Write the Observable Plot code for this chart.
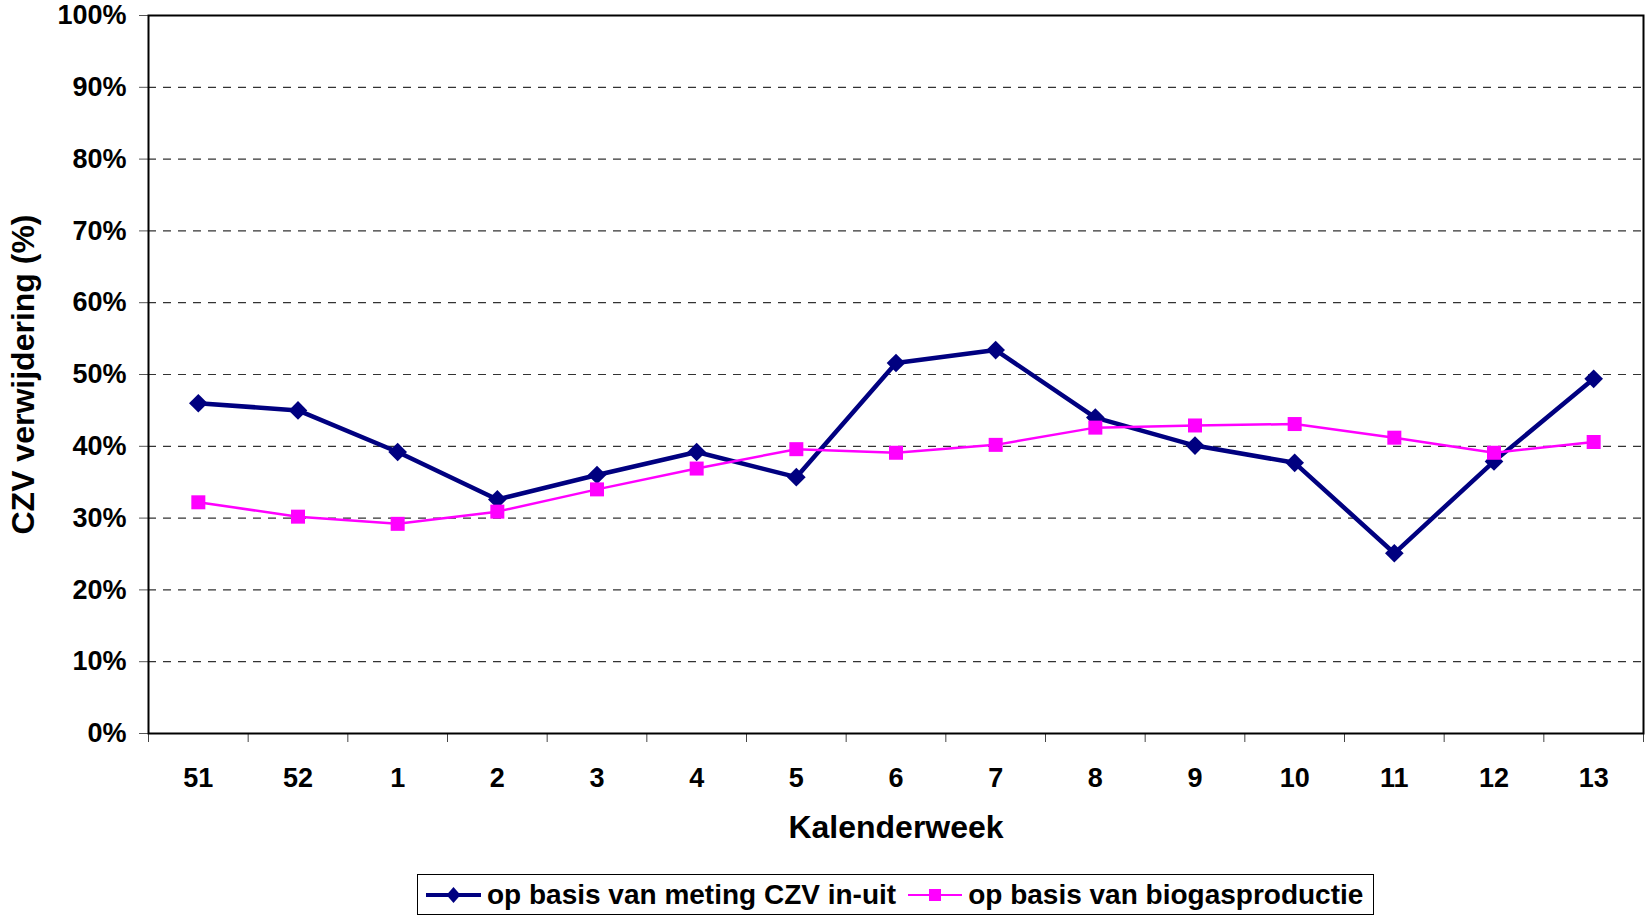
<!DOCTYPE html>
<html>
<head>
<meta charset="utf-8">
<script src="https://cdn.jsdelivr.net/npm/d3@7"></script>
<script src="https://cdn.jsdelivr.net/npm/@observablehq/plot@0.6"></script>
<style>
  body { margin: 0; background: #fff; font-family: "Liberation Sans", Arial, sans-serif; }
  #chart svg { display: block; }
  #legend {
    margin-left: 417px; margin-top: 4px;
    display: inline-flex; align-items: center; box-sizing: border-box;
    height: 41px; padding: 0 10px 0 8px;
    border: 1px solid #000;
    font: bold 28px "Liberation Sans", Arial, sans-serif; color: #000;
  }
  #legend .item { display: flex; align-items: center; }
  #legend .item + .item { margin-left: 12px; }
  #legend svg { margin-right: 6px; display: block; }
</style>
</head>
<body>
<div id="chart"></div>
<div id="legend"></div>
<script>
// ---- data ----
const weeks = ["51", "52", "1", "2", "3", "4", "5", "6", "7", "8", "9", "10", "11", "12", "13"];
const czvInUit = [46.0, 45.0, 39.2, 32.6, 36.0, 39.2, 35.7, 51.6, 53.4, 44.0, 40.1, 37.7, 25.1, 37.9, 49.4];
const biogas   = [32.2, 30.2, 29.2, 30.9, 34.0, 36.9, 39.6, 39.1, 40.2, 42.6, 42.9, 43.1, 41.2, 39.1, 40.6];
const seriesNames = ["op basis van meting CZV in-uit", "op basis van biogasproductie"];
const yTicks = [0, 10, 20, 30, 40, 50, 60, 70, 80, 90, 100];
const xTitle = "Kalenderweek";
const yTitle = "CZV verwijdering (%)";

const colors = ["#000080", "#ff00ff"];

const czvRows = weeks.map((w, i) => ({i, week: w, value: czvInUit[i]}));
const bioRows = weeks.map((w, i) => ({i, week: w, value: biogas[i]}));
const weekIdx = weeks.map((_, i) => i);
const bounds = d3.range(-0.5, weeks.length, 1);

const chart = Plot.plot({
  width: 1648,
  height: 870,
  marginLeft: 148,
  marginRight: 5,
  marginTop: 15,
  marginBottom: 137,
  style: {fontFamily: "'Liberation Sans', Arial, sans-serif", fontSize: "27px", fontWeight: "bold", color: "#000", background: "#fff"},
  x: {type: "linear", domain: [-0.5, weeks.length - 0.5]},
  y: {domain: [0, 100]},
  marks: [
    Plot.gridY(yTicks.slice(1, -1), {stroke: "#333", strokeOpacity: 1, strokeWidth: 1.2, strokeDasharray: "8,7"}),
    Plot.axisY(yTicks, {tickFormat: d => d + "%", tickSize: 9, tickPadding: 13, stroke: "#555", label: null}),
    Plot.axisX(bounds, {tickFormat: () => "", tickSize: 9, stroke: "#444", label: null}),
    Plot.axisX(weekIdx, {tickFormat: i => weeks[i], tickSize: 0, tickPadding: 34, label: null}),
    Plot.frame({stroke: "#000", strokeWidth: 2}),
    Plot.line(czvRows, {x: "i", y: "value", stroke: colors[0], strokeWidth: 4.5}),
    Plot.dot(czvRows, {x: "i", y: "value", symbol: "diamond2", r: 8.4, fill: colors[0], stroke: "none"}),
    Plot.line(bioRows, {x: "i", y: "value", stroke: colors[1], strokeWidth: 2.5}),
    Plot.dot(bioRows, {x: "i", y: "value", symbol: "square", r: 7.9, fill: colors[1], stroke: "none"}),
    Plot.text([xTitle], {text: d => d, frameAnchor: "bottom", dy: 104, fontSize: 32, fontWeight: "bold", fill: "#000"}),
    Plot.text([yTitle], {text: d => d, frameAnchor: "left", textAnchor: "middle", rotate: -90, dx: -125, fontSize: 32, fontWeight: "bold", fill: "#000"})
  ]
});
document.getElementById("chart").appendChild(chart);

// ---- legend ----
const legend = document.getElementById("legend");
const ns = "http://www.w3.org/2000/svg";
seriesNames.forEach((name, k) => {
  const item = document.createElement("div");
  item.className = "item";
  const w = k === 0 ? 55 : 54;
  const sw = document.createElementNS(ns, "svg");
  sw.setAttribute("width", w);
  sw.setAttribute("height", 22);
  const ln = document.createElementNS(ns, "line");
  ln.setAttribute("x1", 0); ln.setAttribute("x2", w);
  ln.setAttribute("y1", 11); ln.setAttribute("y2", 11);
  ln.setAttribute("stroke", colors[k]);
  ln.setAttribute("stroke-width", k === 0 ? 4 : 2);
  sw.appendChild(ln);
  const sym = document.createElementNS(ns, "path");
  const c = w / 2;
  sym.setAttribute("d", k === 0
    ? `M${c},3L${c + 7},11L${c},19L${c - 7},11Z`
    : `M${c - 6},5H${c + 6}V17H${c - 6}Z`);
  sym.setAttribute("fill", colors[k]);
  sw.appendChild(sym);
  const tx = document.createElement("span");
  tx.textContent = name;
  item.appendChild(sw);
  item.appendChild(tx);
  legend.appendChild(item);
});
</script>
</body>
</html>
